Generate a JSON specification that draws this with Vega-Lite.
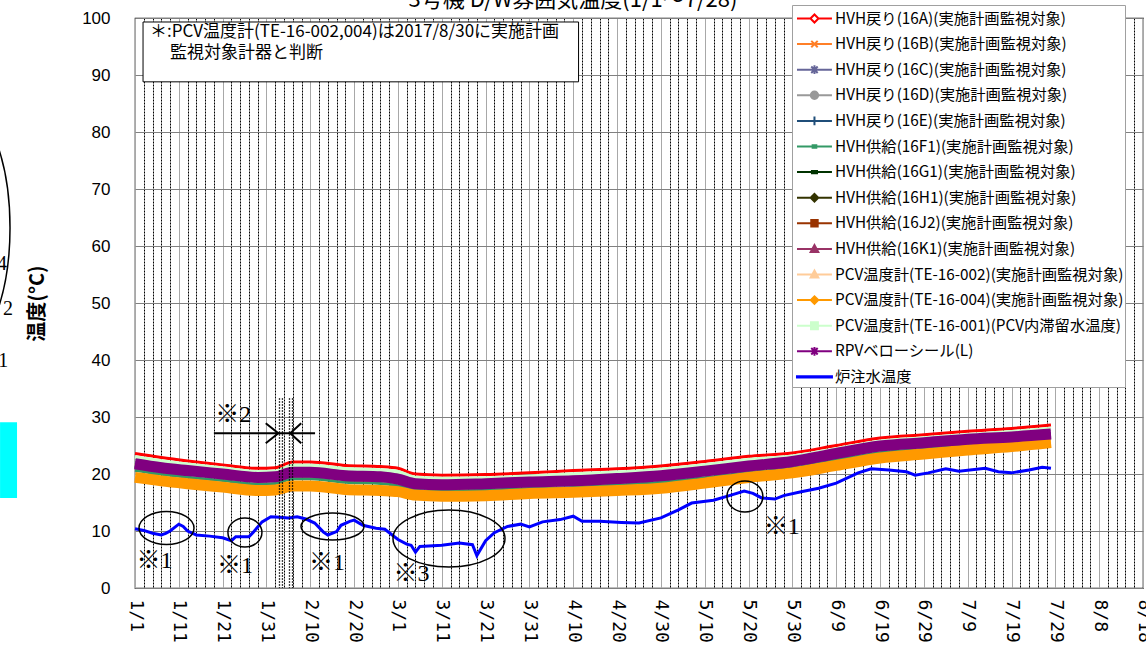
{
  "$schema": "https://vega.github.io/schema/vega-lite/v6.json",
  "width": 1008,
  "height": 570,
  "autosize": "none",
  "padding": {"left": 135, "top": 18, "right": 3, "bottom": 65},
  "background": "white",
  "config": {
    "font": "Noto Sans CJK JP",
    "view": {"stroke": "#000000", "strokeWidth": 1.2},
    "axis": {"labelColor": "#000000", "titleColor": "#000000"}
  },
  "title": {"text": "3号機 D/W雰囲気温度(1/1～7/28)", "font": "Noto Sans CJK JP", "fontSize": 22, "fontWeight": "normal", "color": "#000000", "anchor": "middle", "frame": "group", "dx": -66, "offset": -7},
  "datasets": {
    "band": [
      {"date": "2020-01-01", "A": 23.6, "B": 21.9, "C": 22.0, "D": 22.8, "E": 21.5, "F1": 20.65, "G1": 21.4, "H1": 21.3, "J2": 21.2, "K1": 21.6, "T2": 19.6, "T4": 19.4, "T1": 23.0, "RPV": 21.8},
      {"date": "2020-01-07", "A": 22.9, "B": 21.2, "C": 21.3, "D": 22.1, "E": 20.8, "F1": 19.95, "G1": 20.7, "H1": 20.6, "J2": 20.5, "K1": 20.9, "T2": 19.0, "T4": 18.8, "T1": 22.3, "RPV": 21.1},
      {"date": "2020-01-13", "A": 22.3, "B": 20.7, "C": 20.8, "D": 21.5, "E": 20.3, "F1": 19.45, "G1": 20.2, "H1": 20.1, "J2": 20.0, "K1": 20.4, "T2": 18.5, "T4": 18.3, "T1": 21.7, "RPV": 20.6},
      {"date": "2020-01-21", "A": 21.6, "B": 20.1, "C": 20.2, "D": 20.8, "E": 19.7, "F1": 18.85, "G1": 19.6, "H1": 19.5, "J2": 19.4, "K1": 19.8, "T2": 17.9, "T4": 17.7, "T1": 21.0, "RPV": 20.0},
      {"date": "2020-01-29", "A": 21.0, "B": 19.5, "C": 19.6, "D": 20.2, "E": 19.1, "F1": 18.25, "G1": 19.0, "H1": 18.9, "J2": 18.8, "K1": 19.2, "T2": 17.3, "T4": 17.1, "T1": 20.4, "RPV": 19.4},
      {"date": "2020-02-02", "A": 21.1, "B": 19.6, "C": 19.7, "D": 20.3, "E": 19.2, "F1": 18.35, "G1": 19.1, "H1": 19.0, "J2": 18.9, "K1": 19.3, "T2": 17.4, "T4": 17.2, "T1": 20.5, "RPV": 19.5},
      {"date": "2020-02-06", "A": 22.1, "B": 20.4, "C": 20.5, "D": 21.3, "E": 20.0, "F1": 19.15, "G1": 19.9, "H1": 19.8, "J2": 19.7, "K1": 20.1, "T2": 18.1, "T4": 17.9, "T1": 21.5, "RPV": 20.3},
      {"date": "2020-02-10", "A": 22.1, "B": 20.4, "C": 20.5, "D": 21.3, "E": 20.0, "F1": 19.15, "G1": 19.9, "H1": 19.8, "J2": 19.7, "K1": 20.1, "T2": 18.1, "T4": 17.9, "T1": 21.5, "RPV": 20.3},
      {"date": "2020-02-18", "A": 21.5, "B": 19.8, "C": 19.9, "D": 20.7, "E": 19.4, "F1": 18.55, "G1": 19.3, "H1": 19.2, "J2": 19.1, "K1": 19.5, "T2": 17.5, "T4": 17.3, "T1": 20.9, "RPV": 19.7},
      {"date": "2020-02-26", "A": 21.3, "B": 19.6, "C": 19.7, "D": 20.5, "E": 19.2, "F1": 18.35, "G1": 19.1, "H1": 19.0, "J2": 18.9, "K1": 19.3, "T2": 17.3, "T4": 17.1, "T1": 20.7, "RPV": 19.5},
      {"date": "2020-03-01", "A": 21.0, "B": 19.2, "C": 19.3, "D": 20.2, "E": 18.8, "F1": 17.95, "G1": 18.7, "H1": 18.6, "J2": 18.5, "K1": 18.9, "T2": 17.1, "T4": 16.9, "T1": 20.4, "RPV": 19.1},
      {"date": "2020-03-05", "A": 20.0, "B": 18.4, "C": 18.5, "D": 19.2, "E": 18.0, "F1": 17.15, "G1": 17.9, "H1": 17.8, "J2": 17.7, "K1": 18.1, "T2": 16.5, "T4": 16.3, "T1": 19.4, "RPV": 18.3},
      {"date": "2020-03-11", "A": 19.8, "B": 18.2, "C": 18.3, "D": 19.0, "E": 17.8, "F1": 16.95, "G1": 17.7, "H1": 17.6, "J2": 17.5, "K1": 17.9, "T2": 16.3, "T4": 16.1, "T1": 19.2, "RPV": 18.1},
      {"date": "2020-03-21", "A": 19.9, "B": 18.4, "C": 18.5, "D": 19.1, "E": 18.0, "F1": 17.15, "G1": 17.9, "H1": 17.8, "J2": 17.7, "K1": 18.1, "T2": 16.4, "T4": 16.2, "T1": 19.3, "RPV": 18.3},
      {"date": "2020-03-31", "A": 20.2, "B": 18.7, "C": 18.8, "D": 19.4, "E": 18.3, "F1": 17.45, "G1": 18.2, "H1": 18.1, "J2": 18.0, "K1": 18.4, "T2": 16.8, "T4": 16.6, "T1": 19.6, "RPV": 18.6},
      {"date": "2020-04-10", "A": 20.6, "B": 18.9, "C": 19.0, "D": 19.8, "E": 18.5, "F1": 17.65, "G1": 18.4, "H1": 18.3, "J2": 18.2, "K1": 18.6, "T2": 17.0, "T4": 16.8, "T1": 20.0, "RPV": 18.8},
      {"date": "2020-04-20", "A": 20.9, "B": 19.3, "C": 19.4, "D": 20.1, "E": 18.9, "F1": 18.05, "G1": 18.8, "H1": 18.7, "J2": 18.6, "K1": 19.0, "T2": 17.3, "T4": 17.1, "T1": 20.3, "RPV": 19.2},
      {"date": "2020-04-30", "A": 21.4, "B": 19.8, "C": 19.9, "D": 20.6, "E": 19.4, "F1": 18.55, "G1": 19.3, "H1": 19.2, "J2": 19.1, "K1": 19.5, "T2": 17.7, "T4": 17.5, "T1": 20.8, "RPV": 19.7},
      {"date": "2020-05-10", "A": 22.2, "B": 20.6, "C": 20.7, "D": 21.4, "E": 20.2, "F1": 19.35, "G1": 20.1, "H1": 20.0, "J2": 19.9, "K1": 20.3, "T2": 18.6, "T4": 18.4, "T1": 21.6, "RPV": 20.5},
      {"date": "2020-05-20", "A": 23.1, "B": 21.5, "C": 21.6, "D": 22.3, "E": 21.1, "F1": 20.25, "G1": 21.0, "H1": 20.9, "J2": 20.8, "K1": 21.2, "T2": 19.6, "T4": 19.4, "T1": 22.5, "RPV": 21.4},
      {"date": "2020-05-30", "A": 23.7, "B": 22.3, "C": 22.4, "D": 22.9, "E": 21.9, "F1": 21.05, "G1": 21.8, "H1": 21.7, "J2": 21.6, "K1": 22.0, "T2": 20.4, "T4": 20.2, "T1": 23.1, "RPV": 22.2},
      {"date": "2020-06-09", "A": 25.0, "B": 23.7, "C": 23.8, "D": 24.2, "E": 23.3, "F1": 22.45, "G1": 23.2, "H1": 23.1, "J2": 23.0, "K1": 23.4, "T2": 21.7, "T4": 21.5, "T1": 24.4, "RPV": 23.6},
      {"date": "2020-06-19", "A": 26.3, "B": 25.0, "C": 25.1, "D": 25.5, "E": 24.6, "F1": 23.75, "G1": 24.5, "H1": 24.4, "J2": 24.3, "K1": 24.7, "T2": 23.0, "T4": 22.8, "T1": 25.7, "RPV": 24.9},
      {"date": "2020-06-29", "A": 26.9, "B": 25.6, "C": 25.7, "D": 26.1, "E": 25.2, "F1": 24.35, "G1": 25.1, "H1": 25.0, "J2": 24.9, "K1": 25.3, "T2": 23.7, "T4": 23.5, "T1": 26.3, "RPV": 25.5},
      {"date": "2020-07-09", "A": 27.5, "B": 26.2, "C": 26.3, "D": 26.7, "E": 25.8, "F1": 24.95, "G1": 25.7, "H1": 25.6, "J2": 25.5, "K1": 25.9, "T2": 24.4, "T4": 24.2, "T1": 26.9, "RPV": 26.1},
      {"date": "2020-07-19", "A": 28.0, "B": 26.6, "C": 26.7, "D": 27.2, "E": 26.2, "F1": 25.35, "G1": 26.1, "H1": 26.0, "J2": 25.9, "K1": 26.3, "T2": 25.0, "T4": 24.8, "T1": 27.4, "RPV": 26.5},
      {"date": "2020-07-28", "A": 28.6, "B": 27.1, "C": 27.2, "D": 27.8, "E": 26.8, "F1": 25.85, "G1": 26.7, "H1": 26.6, "J2": 26.5, "K1": 26.8, "T2": 25.7, "T4": 25.5, "T1": 28.0, "RPV": 27.0}
    ],
    "water": [
      {"date": "2020-01-01", "value": 10.4}, {"date": "2020-01-03", "value": 10.1}, {"date": "2020-01-05", "value": 9.6},
      {"date": "2020-01-07", "value": 9.3}, {"date": "2020-01-08", "value": 9.6}, {"date": "2020-01-09", "value": 10.0},
      {"date": "2020-01-11", "value": 11.2}, {"date": "2020-01-12", "value": 10.8}, {"date": "2020-01-13", "value": 10.0},
      {"date": "2020-01-15", "value": 9.3}, {"date": "2020-01-18", "value": 9.1}, {"date": "2020-01-21", "value": 8.8},
      {"date": "2020-01-23", "value": 8.3}, {"date": "2020-01-24", "value": 9.0}, {"date": "2020-01-27", "value": 9.0},
      {"date": "2020-01-28", "value": 9.8}, {"date": "2020-01-30", "value": 11.6}, {"date": "2020-02-01", "value": 12.5},
      {"date": "2020-02-03", "value": 12.4}, {"date": "2020-02-05", "value": 12.3}, {"date": "2020-02-07", "value": 12.5},
      {"date": "2020-02-09", "value": 12.1}, {"date": "2020-02-11", "value": 11.4}, {"date": "2020-02-13", "value": 9.8},
      {"date": "2020-02-14", "value": 9.3}, {"date": "2020-02-16", "value": 9.9}, {"date": "2020-02-17", "value": 11.0},
      {"date": "2020-02-19", "value": 11.7}, {"date": "2020-02-20", "value": 11.9}, {"date": "2020-02-22", "value": 11.0},
      {"date": "2020-02-25", "value": 10.5}, {"date": "2020-02-27", "value": 10.3}, {"date": "2020-03-01", "value": 8.5},
      {"date": "2020-03-03", "value": 7.7}, {"date": "2020-03-04", "value": 7.5}, {"date": "2020-03-05", "value": 6.3},
      {"date": "2020-03-06", "value": 7.3}, {"date": "2020-03-09", "value": 7.4}, {"date": "2020-03-11", "value": 7.5},
      {"date": "2020-03-15", "value": 7.9}, {"date": "2020-03-18", "value": 7.6}, {"date": "2020-03-19", "value": 5.7},
      {"date": "2020-03-21", "value": 8.3}, {"date": "2020-03-23", "value": 9.7}, {"date": "2020-03-26", "value": 10.8},
      {"date": "2020-03-29", "value": 11.2}, {"date": "2020-03-31", "value": 10.7}, {"date": "2020-04-03", "value": 11.6},
      {"date": "2020-04-07", "value": 12.0}, {"date": "2020-04-10", "value": 12.6}, {"date": "2020-04-12", "value": 11.7},
      {"date": "2020-04-16", "value": 11.7}, {"date": "2020-04-21", "value": 11.5}, {"date": "2020-04-25", "value": 11.4},
      {"date": "2020-04-30", "value": 12.3}, {"date": "2020-05-04", "value": 13.7}, {"date": "2020-05-07", "value": 14.9},
      {"date": "2020-05-12", "value": 15.4}, {"date": "2020-05-16", "value": 16.3}, {"date": "2020-05-19", "value": 17.0},
      {"date": "2020-05-21", "value": 16.6}, {"date": "2020-05-23", "value": 15.8}, {"date": "2020-05-26", "value": 15.6},
      {"date": "2020-05-28", "value": 16.2}, {"date": "2020-06-01", "value": 16.9}, {"date": "2020-06-05", "value": 17.5},
      {"date": "2020-06-09", "value": 18.4}, {"date": "2020-06-14", "value": 20.2}, {"date": "2020-06-17", "value": 20.9},
      {"date": "2020-06-21", "value": 20.7}, {"date": "2020-06-25", "value": 20.4}, {"date": "2020-06-27", "value": 19.8},
      {"date": "2020-06-30", "value": 20.2}, {"date": "2020-07-04", "value": 20.9}, {"date": "2020-07-07", "value": 20.5},
      {"date": "2020-07-13", "value": 21.0}, {"date": "2020-07-16", "value": 20.4}, {"date": "2020-07-19", "value": 20.2},
      {"date": "2020-07-23", "value": 20.7}, {"date": "2020-07-26", "value": 21.2}, {"date": "2020-07-28", "value": 21.0}
    ]
  },
  "encoding": {
    "x": {
      "field": "date",
      "type": "temporal",
      "scale": {"type": "utc", "domain": [1577836800000, 1597708800000]},
      "axis": {
        "values": [1577836800000,1578009600000,1578182400000,1578355200000,1578528000000,1578700800000,1578873600000,1579046400000,1579219200000,1579392000000,1579564800000,1579737600000,1579910400000,1580083200000,1580256000000,1580428800000,1580601600000,1580774400000,1580947200000,1581120000000,1581292800000,1581465600000,1581638400000,1581811200000,1581984000000,1582156800000,1582329600000,1582502400000,1582675200000,1582848000000,1583020800000,1583193600000,1583366400000,1583539200000,1583712000000,1583884800000,1584057600000,1584230400000,1584403200000,1584576000000,1584748800000,1584921600000,1585094400000,1585267200000,1585440000000,1585612800000,1585785600000,1585958400000,1586131200000,1586304000000,1586476800000,1586649600000,1586822400000,1586995200000,1587168000000,1587340800000,1587513600000,1587686400000,1587859200000,1588032000000,1588204800000,1588377600000,1588550400000,1588723200000,1588896000000,1589068800000,1589241600000,1589414400000,1589587200000,1589760000000,1589932800000,1590105600000,1590278400000,1590451200000,1590624000000,1590796800000,1590969600000,1591142400000,1591315200000,1591488000000,1591660800000,1591833600000,1592006400000,1592179200000,1592352000000,1592524800000,1592697600000,1592870400000,1593043200000,1593216000000,1593388800000,1593561600000,1593734400000,1593907200000,1594080000000,1594252800000,1594425600000,1594598400000,1594771200000,1594944000000,1595116800000,1595289600000,1595462400000,1595635200000,1595808000000,1595980800000,1596153600000,1596326400000,1596499200000,1596672000000,1596844800000,1597017600000,1597190400000,1597363200000,1597536000000,1597708800000],
        "labelExpr": "round((datum.value - 1577836800000) / 86400000) % 10 == 0 ? utcFormat(datum.value, '%-m/%-d') : ''",
        "labelAngle": 90,
        "labelFont": "DejaVu Sans Mono",
        "labelFontSize": 18,
        "labelPadding": 11,
        "labelOverlap": false,
        "labelFlush": false,
        "labelBound": false,
        "ticks": false,
        "domain": false,
        "title": null,
        "grid": true,
        "gridWidth": 1,
        "gridColor": {"condition": {"test": "round((datum.value - 1577836800000) / 86400000) % 10 == 0", "value": "#a8a8a8"}, "value": "#000000"},
        "gridDash": {"condition": {"test": "round((datum.value - 1577836800000) / 86400000) % 10 == 0", "value": []}, "value": [2, 1]}
      }
    },
    "y": {
      "field": "value",
      "type": "quantitative",
      "scale": {"domain": [0, 100], "nice": false, "zero": true},
      "axis": {
        "values": [0, 10, 20, 30, 40, 50, 60, 70, 80, 90, 100],
        "title": "温度(°C)",
        "titleFont": "Noto Sans CJK JP",
        "titleFontSize": 20,
        "titleFontWeight": "bold",
        "titlePadding": 34,
        "labelFont": "Liberation Sans",
        "labelFontSize": 17,
        "labelPadding": 25,
        "ticks": false,
        "domain": false,
        "grid": true,
        "gridColor": "#808080",
        "gridWidth": 1
      }
    }
  },
  "layer": [
    {
      "data": {"name": "band"},
      "transform": [{"fold": ["A", "B", "C", "D", "E", "F1", "G1", "H1", "J2", "K1", "T2"], "as": ["series", "value"]}],
      "mark": {"type": "line", "strokeWidth": 3, "interpolate": "monotone"},
      "encoding": {
        "color": {
          "field": "series", "type": "nominal", "legend": null,
          "scale": {"domain": ["A", "B", "C", "D", "E", "F1", "G1", "H1", "J2", "K1", "T2"],
                    "range": ["#FF0000", "#FF7F27", "#666699", "#999999", "#1F4E79", "#339966", "#003300", "#333300", "#993300", "#993366", "#FFCC99"]}
        }
      }
    },
    {
      "data": {"name": "band"},
      "transform": [{"fold": ["T4"], "as": ["series", "value"]}],
      "mark": {"type": "line", "strokeWidth": 11, "color": "#FF9900", "interpolate": "monotone"}
    },
    {
      "data": {"name": "band"},
      "transform": [{"fold": ["T1"], "as": ["series", "value"]}],
      "mark": {"type": "line", "strokeWidth": 3.5, "color": "#CCFFCC", "interpolate": "monotone"}
    },
    {
      "data": {"name": "band"},
      "transform": [{"fold": ["RPV"], "as": ["series", "value"]}],
      "mark": {"type": "line", "strokeWidth": 11, "color": "#800080", "interpolate": "monotone"}
    },
    {
      "data": {"name": "water"},
      "mark": {"type": "line", "strokeWidth": 3, "color": "#0000FF"}
    },
    {
      "data": {"values": []},
      "mark": {"type": "point", "filled": true, "size": 529, "strokeWidth": 2, "opacity": 1},
      "encoding": {
        "shape": {
          "field": "series", "type": "nominal",
          "scale": {
            "domain": ["A", "B", "C", "D", "E", "F1", "G1", "H1", "J2", "K1", "T2", "T4", "T1", "RPV", "W"],
            "range": [
              "M-0.74,0H0.43M1.13,0H2.3M0.43,0L0.78,-0.35L1.13,0L0.78,0.35Z",
              "M-0.74,0H2.3M0.5,-0.28L1.06,0.28M0.5,0.28L1.06,-0.28",
              "M-0.74,0H2.3M0.5,-0.28L1.06,0.28M0.5,0.28L1.06,-0.28M0.78,-0.38V0.38",
              "M-0.74,0H2.3M0.46,0A0.32,0.32,0,1,0,1.1,0A0.32,0.32,0,1,0,0.46,0Z",
              "M-0.74,0H2.3M0.78,-0.38V0.38",
              "M-0.74,0H2.3M0.62,-0.1H0.94V0.1H0.62Z",
              "M-0.74,0H2.3M0.56,-0.1H1.0V0.1H0.56Z",
              "M-0.74,0H2.3M0.45,0L0.78,-0.33L1.11,0L0.78,0.33Z",
              "M-0.74,0H2.3M0.5,-0.28H1.06V0.28H0.5Z",
              "M-0.74,0H2.3M0.45,0.26L0.78,-0.34L1.11,0.26Z",
              "M-0.74,0H2.3M0.45,0.26L0.78,-0.34L1.11,0.26Z",
              "M-0.74,0H2.3M0.45,0L0.78,-0.33L1.11,0L0.78,0.33Z",
              "M-0.74,0H2.3M0.48,-0.3H1.08V0.3H0.48Z",
              "M-0.74,0H2.3M0.5,-0.28L1.06,0.28M0.5,0.28L1.06,-0.28M0.78,-0.38V0.38",
              "M-0.74,-0.06H2.3V0.06H-0.74Z"
            ]
          },
          "legend": {
            "title": null, "orient": "none", "legendX": 657, "legendY": -13,
            "symbolSize": 529, "symbolStrokeWidth": 2, "symbolOpacity": 1,
            "labelFont": "Noto Sans CJK JP", "labelFontSize": 15.3, "labelColor": "#000000", "labelOffset": 17, "labelLimit": 0,
            "padding": 1, "rowPadding": 4.6, "fillColor": "#FFFFFF", "strokeColor": "#A0A0A0",
            "labelExpr": "{'A':'HVH戻り(16A)(実施計画監視対象)','B':'HVH戻り(16B)(実施計画監視対象)','C':'HVH戻り(16C)(実施計画監視対象)','D':'HVH戻り(16D)(実施計画監視対象)','E':'HVH戻り(16E)(実施計画監視対象)','F1':'HVH供給(16F1)(実施計画監視対象)','G1':'HVH供給(16G1)(実施計画監視対象)','H1':'HVH供給(16H1)(実施計画監視対象)','J2':'HVH供給(16J2)(実施計画監視対象)','K1':'HVH供給(16K1)(実施計画監視対象)','T2':'PCV温度計(TE-16-002)(実施計画監視対象)','T4':'PCV温度計(TE-16-004)(実施計画監視対象)','T1':'PCV温度計(TE-16-001)(PCV内滞留水温度)','RPV':'RPVベローシール(L)','W':'炉注水温度'}[datum.value]"
          }
        },
        "stroke": {
          "field": "series", "type": "nominal",
          "scale": {
            "domain": ["A", "B", "C", "D", "E", "F1", "G1", "H1", "J2", "K1", "T2", "T4", "T1", "RPV", "W"],
            "range": ["#FF0000", "#FF7F27", "#666699", "#999999", "#1F4E79", "#339966", "#003300", "#333300", "#993300", "#993366", "#FFCC99", "#FF9900", "#CCFFCC", "#800080", "#0000FF"]
          },
          "legend": {
            "title": null, "orient": "none", "legendX": 657, "legendY": -13,
            "symbolSize": 529, "symbolStrokeWidth": 2, "symbolOpacity": 1,
            "labelFont": "Noto Sans CJK JP", "labelFontSize": 15.3, "labelColor": "#000000", "labelOffset": 17, "labelLimit": 0,
            "padding": 1, "rowPadding": 4.6, "fillColor": "#FFFFFF", "strokeColor": "#A0A0A0",
            "labelExpr": "{'A':'HVH戻り(16A)(実施計画監視対象)','B':'HVH戻り(16B)(実施計画監視対象)','C':'HVH戻り(16C)(実施計画監視対象)','D':'HVH戻り(16D)(実施計画監視対象)','E':'HVH戻り(16E)(実施計画監視対象)','F1':'HVH供給(16F1)(実施計画監視対象)','G1':'HVH供給(16G1)(実施計画監視対象)','H1':'HVH供給(16H1)(実施計画監視対象)','J2':'HVH供給(16J2)(実施計画監視対象)','K1':'HVH供給(16K1)(実施計画監視対象)','T2':'PCV温度計(TE-16-002)(実施計画監視対象)','T4':'PCV温度計(TE-16-004)(実施計画監視対象)','T1':'PCV温度計(TE-16-001)(PCV内滞留水温度)','RPV':'RPVベローシール(L)','W':'炉注水温度'}[datum.value]"
          }
        },
        "fill": {
          "field": "series", "type": "nominal",
          "scale": {
            "domain": ["A", "B", "C", "D", "E", "F1", "G1", "H1", "J2", "K1", "T2", "T4", "T1", "RPV", "W"],
            "range": ["#FFFFFF", "#FF7F27", "#666699", "#999999", "#1F4E79", "#339966", "#003300", "#333300", "#993300", "#993366", "#FFCC99", "#FF9900", "#CCFFCC", "#800080", "#0000FF"]
          },
          "legend": {
            "title": null, "orient": "none", "legendX": 657, "legendY": -13,
            "symbolSize": 529, "symbolStrokeWidth": 2, "symbolOpacity": 1,
            "labelFont": "Noto Sans CJK JP", "labelFontSize": 15.3, "labelColor": "#000000", "labelOffset": 17, "labelLimit": 0,
            "padding": 1, "rowPadding": 4.6, "fillColor": "#FFFFFF", "strokeColor": "#A0A0A0",
            "labelExpr": "{'A':'HVH戻り(16A)(実施計画監視対象)','B':'HVH戻り(16B)(実施計画監視対象)','C':'HVH戻り(16C)(実施計画監視対象)','D':'HVH戻り(16D)(実施計画監視対象)','E':'HVH戻り(16E)(実施計画監視対象)','F1':'HVH供給(16F1)(実施計画監視対象)','G1':'HVH供給(16G1)(実施計画監視対象)','H1':'HVH供給(16H1)(実施計画監視対象)','J2':'HVH供給(16J2)(実施計画監視対象)','K1':'HVH供給(16K1)(実施計画監視対象)','T2':'PCV温度計(TE-16-002)(実施計画監視対象)','T4':'PCV温度計(TE-16-004)(実施計画監視対象)','T1':'PCV温度計(TE-16-001)(PCV内滞留水温度)','RPV':'RPVベローシール(L)','W':'炉注水温度'}[datum.value]"
          }
        }
      }
    },
    {
      "data": {"values": [{"date": "2020-01-02T20:00:00Z", "date2": "2020-04-11T05:00:00Z", "value": 99.3, "value2": 88.8}]},
      "mark": {"type": "rect", "fill": "#FFFFFF", "stroke": "#000000", "strokeWidth": 1},
      "encoding": {"x2": {"field": "date2"}, "y2": {"field": "value2"}}
    },
    {
      "data": {"values": [
        {"date": "2020-01-04T10:00:00Z", "value": 97.55, "label": "＊:PCV温度計(TE-16-002,004)は2017/8/30に実施計画"},
        {"date": "2020-01-09T00:00:00Z", "value": 93.8, "label": "監視対象計器と判断"}
      ]},
      "mark": {"type": "text", "align": "left", "baseline": "middle", "font": "Noto Sans CJK JP", "fontSize": 17, "color": "#000000"},
      "encoding": {"text": {"field": "label"}}
    },
    {
      "data": {"values": [
        {"date": "2020-02-02T23:15:00Z", "value": 33.3, "value2": 0},
        {"date": "2020-02-03T15:30:00Z", "value": 33.3, "value2": 0},
        {"date": "2020-02-05T06:00:00Z", "value": 33.3, "value2": 0},
        {"date": "2020-02-05T22:30:00Z", "value": 33.3, "value2": 0}
      ]},
      "mark": {"type": "rule", "stroke": "#000000", "strokeWidth": 1.3, "strokeDash": [1.5, 1.5]},
      "encoding": {"y2": {"field": "value2"}}
    },
    {
      "data": {"values": [{"date": "2020-01-19T00:00:00Z", "date2": "2020-02-11T02:00:00Z", "value": 27.14}]},
      "mark": {"type": "rule", "stroke": "#000000", "strokeWidth": 2},
      "encoding": {"x2": {"field": "date2"}}
    },
    {
      "data": {"values": [{"date": "2020-02-02T17:00:00Z", "value": 27.14}]},
      "mark": {"type": "point", "shape": "M-12.6,-10L0,0L-12.6,10", "size": 4, "filled": false, "stroke": "#000000", "strokeWidth": 2, "opacity": 1}
    },
    {
      "data": {"values": [{"date": "2020-02-05T10:00:00Z", "value": 27.14}]},
      "mark": {"type": "point", "shape": "M11,-10L0,0L11,10", "size": 4, "filled": false, "stroke": "#000000", "strokeWidth": 2, "opacity": 1}
    },
    {
      "data": {"values": [{"date": "2020-01-08T04:30:00Z", "value": 10.53}]},
      "mark": {"type": "point", "shape": "M-27.5,0A27.5,16.5,0,1,0,27.5,0A27.5,16.5,0,1,0,-27.5,0Z", "size": 4, "filled": false, "stroke": "#000000", "strokeWidth": 1.5, "opacity": 1}
    },
    {
      "data": {"values": [{"date": "2020-01-26T02:00:00Z", "value": 9.74}]},
      "mark": {"type": "point", "shape": "M-17,0A17,14.5,0,1,0,17,0A17,14.5,0,1,0,-17,0Z", "size": 4, "filled": false, "stroke": "#000000", "strokeWidth": 1.5, "opacity": 1}
    },
    {
      "data": {"values": [{"date": "2020-02-15T01:30:00Z", "value": 10.79}]},
      "mark": {"type": "point", "shape": "M-31.5,0A31.5,13.5,0,1,0,31.5,0A31.5,13.5,0,1,0,-31.5,0Z", "size": 4, "filled": false, "stroke": "#000000", "strokeWidth": 1.5, "opacity": 1}
    },
    {
      "data": {"values": [{"date": "2020-03-12T15:30:00Z", "value": 8.68}]},
      "mark": {"type": "point", "shape": "M-56,0A56,28.5,0,1,0,56,0A56,28.5,0,1,0,-56,0Z", "size": 4, "filled": false, "stroke": "#000000", "strokeWidth": 1.5, "opacity": 1}
    },
    {
      "data": {"values": [{"date": "2020-05-19T04:00:00Z", "value": 16.05}]},
      "mark": {"type": "point", "shape": "M-18,0A18,15.5,0,1,0,18,0A18,15.5,0,1,0,-18,0Z", "size": 4, "filled": false, "stroke": "#000000", "strokeWidth": 1.5, "opacity": 1}
    },
    {
      "data": {"values": [{"date": "2019-11-19T19:00:00Z", "value": 63.2}]},
      "mark": {"type": "point", "shape": "M-60,0A60,135,0,1,0,60,0A60,135,0,1,0,-60,0Z", "size": 4, "filled": false, "stroke": "#000000", "strokeWidth": 1.5, "opacity": 1}
    },
    {
      "data": {"values": [{"date": "2019-12-01T05:00:00Z", "date2": "2019-12-05T02:00:00Z", "value": 29.1, "value2": 15.8}]},
      "mark": {"type": "rect", "fill": "#00FFFF"},
      "encoding": {"x2": {"field": "date2"}, "y2": {"field": "value2"}}
    },
    {
      "data": {"values": [
        {"date": "2019-12-01T15:00:00Z", "value": 56.8, "label": "4"},
        {"date": "2019-12-03T00:00:00Z", "value": 48.9, "label": "2"},
        {"date": "2019-12-01T22:00:00Z", "value": 39.8, "label": "1"}
      ]},
      "mark": {"type": "text", "align": "center", "baseline": "middle", "font": "Liberation Serif", "fontSize": 20, "color": "#000000"},
      "encoding": {"text": {"field": "label"}}
    },
    {
      "data": {"values": [
        {"date": "2020-01-05T11:00:00Z", "value": 4.74, "label": "※1"},
        {"date": "2020-01-23T19:00:00Z", "value": 3.86, "label": "※1"},
        {"date": "2020-02-13T19:00:00Z", "value": 4.47, "label": "※1"},
        {"date": "2020-03-04T02:00:00Z", "value": 2.54, "label": "※3"},
        {"date": "2020-05-27T14:00:00Z", "value": 10.7, "label": "※1"},
        {"date": "2020-01-23T10:00:00Z", "value": 30.35, "label": "※2"}
      ]},
      "mark": {"type": "text", "align": "center", "baseline": "middle", "font": "Liberation Serif, Noto Sans CJK JP", "fontSize": 24, "color": "#000000"},
      "encoding": {"text": {"field": "label"}}
    }
  ]
}
